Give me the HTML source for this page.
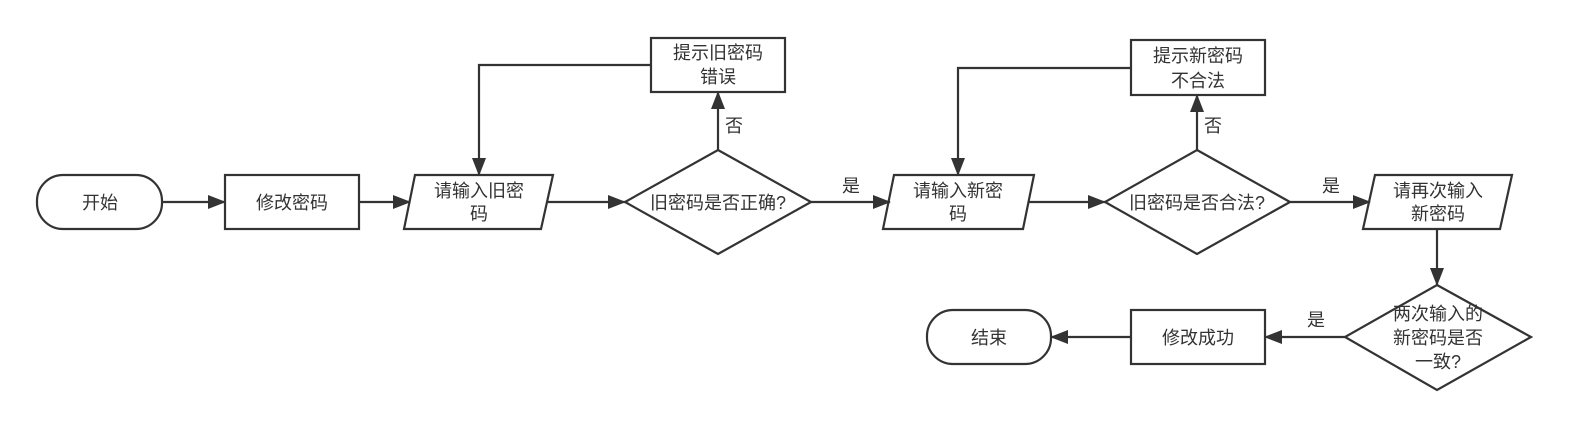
<!DOCTYPE html>
<html><head><meta charset="utf-8"><style>
html,body{margin:0;padding:0;background:#fff;}
svg text{font-family:"Liberation Sans","Noto Sans CJK SC",sans-serif;font-size:18px;fill:#333;text-anchor:middle;dominant-baseline:central;}
</style></head><body>
<svg width="1570" height="427" viewBox="0 0 1570 427" xmlns="http://www.w3.org/2000/svg">
<defs><marker id="a" markerWidth="18" markerHeight="14" refX="17" refY="7" orient="auto" markerUnits="userSpaceOnUse"><path d="M0,0 L18,7 L0,14 z" fill="#333"/></marker></defs>
<g fill="none" stroke="#333" stroke-width="2.2">
<rect x="37" y="175" width="125" height="54" rx="26"/>
<rect x="225" y="175" width="134" height="54"/>
<polygon points="415,175 553,175 541,229 404,229"/>
<polygon points="718,150 811,202 718,254 625,202"/>
<rect x="651" y="38" width="134" height="54"/>
<polygon points="894,175 1034,175 1023,229 883,229"/>
<polygon points="1197,150 1290,202 1197,254 1105,202"/>
<rect x="1131" y="40" width="134" height="55"/>
<polygon points="1375,175 1512,175 1500,229 1363,229"/>
<polygon points="1437,285 1531,337 1437,390 1345,337"/>
<rect x="1131" y="310" width="134" height="54"/>
<rect x="927" y="310" width="124" height="54" rx="26"/>
<g marker-end="url(#a)">
<line x1="162" y1="202" x2="225" y2="202"/>
<line x1="359" y1="202" x2="410" y2="202"/>
<line x1="547" y1="202" x2="625" y2="202"/>
<line x1="718" y1="150" x2="718" y2="92"/>
<polyline points="651,65 479,65 479,175"/>
<line x1="811" y1="202" x2="890" y2="202"/>
<line x1="1028" y1="202" x2="1105" y2="202"/>
<line x1="1197" y1="150" x2="1197" y2="95"/>
<polyline points="1131,68 958,68 958,175"/>
<line x1="1290" y1="202" x2="1370" y2="202"/>
<line x1="1437" y1="229" x2="1437" y2="285"/>
<line x1="1345" y1="337" x2="1265" y2="337"/>
<line x1="1131" y1="337" x2="1051" y2="337"/>
</g></g>
<text x="100" y="203">开始</text>
<text x="292" y="203">修改密码</text>
<text x="479" y="191">请输入旧密</text><text x="479" y="214">码</text>
<text x="718" y="203">旧密码是否正确?</text>
<text x="718" y="53">提示旧密码</text><text x="718" y="77">错误</text>
<text x="734" y="126">否</text>
<text x="851" y="186">是</text>
<text x="958" y="191">请输入新密</text><text x="958" y="214">码</text>
<text x="1197" y="203">旧密码是否合法?</text>
<text x="1198" y="56">提示新密码</text><text x="1198" y="81">不合法</text>
<text x="1213" y="126">否</text>
<text x="1331" y="186">是</text>
<text x="1438" y="191">请再次输入</text><text x="1438" y="214">新密码</text>
<text x="1438" y="314">两次输入的</text><text x="1438" y="338">新密码是否</text><text x="1438" y="362">一致?</text>
<text x="1316" y="320">是</text>
<text x="1198" y="338">修改成功</text>
<text x="989" y="338">结束</text>
</svg>
</body></html>
